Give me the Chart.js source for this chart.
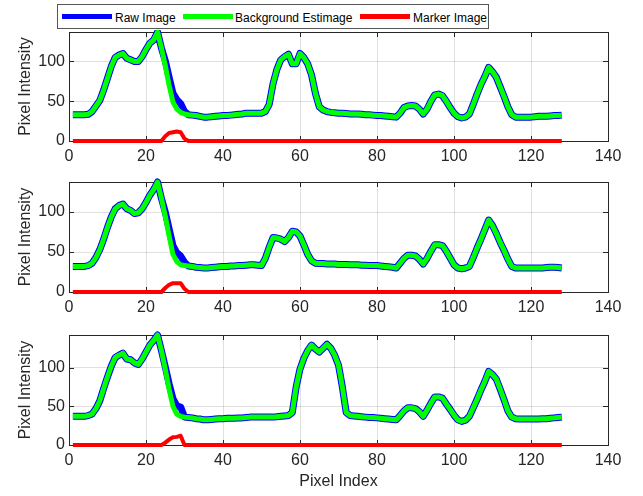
<!DOCTYPE html>
<html>
<head>
<meta charset="utf-8">
<script src="https://cdn.jsdelivr.net/npm/chart.js@4.4.1/dist/chart.umd.min.js"></script>
<style>
  body { margin: 0; background: #fff; width: 643px; height: 496px; position: relative; overflow: hidden;
         font-family: 'Liberation Sans', Arial, Helvetica, sans-serif; }
  canvas { position: absolute; left: 0; }
  #legend { position: absolute; left: 57px; top: 4px; width: 430px; height: 23px; border: 1px solid #555; background: #fff; }
  .sw { position: absolute; top: 9px; width: 50px; height: 5px; }
  .lb { position: absolute; top: 6px; font-size: 12px; line-height: 14px; color: #000; white-space: nowrap; }
</style>
</head>
<body>
<div id="legend">
  <div class="sw" style="left:4px;background:#0000ff"></div><span class="lb" style="left:57px">Raw Image</span>
  <div class="sw" style="left:125px;background:#00ff00"></div><span class="lb" style="left:177px">Background Estimage</span>
  <div class="sw" style="left:302px;background:#ff0000"></div><span class="lb" style="left:355px">Marker Image</span>
</div>
<canvas id="c1" width="643" height="133" style="top:30px"></canvas>
<canvas id="c2" width="643" height="144" style="top:170px"></canvas>
<canvas id="c3" width="643" height="175" style="top:320px"></canvas>
<script>
// x positions = pixel index 1..128
const pixelIndex = Array.from({ length: 128 }, (_, i) => i + 1);
const xTicks = [0, 20, 40, 60, 80, 100, 120, 140];
const yTicks = [0, 50, 100];

// ---- subplot 1 ----
const bg1 = [
  33, 33, 33, 33, 33.5, 37, 44, 51, 64, 79, 94, 105, 108, 110, 104, 102,
  100, 100, 106, 115, 123, 127, 137, 117, 95, 70, 49, 40, 36, 34, 33, 32.5,
  32, 31, 30, 30, 30.5, 31, 31.5, 32, 32, 32.5, 33, 33.5, 34, 35, 35, 35,
  35, 35, 37, 46, 72, 90, 102, 106, 109, 97, 97, 110, 105, 97, 83, 60,
  43, 39, 37, 36, 35.5, 35, 35, 34.5, 34, 34, 34, 33.5, 33, 33, 32.5, 32,
  32, 31.5, 31, 30.5, 30, 35, 42, 44, 44.5, 44, 40, 34, 40, 50, 58, 59,
  57, 50, 42, 35, 30.5, 29, 30, 34, 46, 59, 71, 81, 92.5, 87, 80, 68,
  56, 43, 33, 30, 30, 30, 30, 30, 30.5, 31, 31, 31, 31.5, 32, 32, 32.5
];
const raw1 = [
  33, 33, 33, 33, 33.5, 37, 44, 51, 64, 79, 94, 105, 108, 110, 104, 102,
  100, 100, 106, 115, 123, 127, 137, 117, 101, 80, 60, 52, 47, 37, 33, 32.5,
  32, 31, 30, 30, 30.5, 31, 31.5, 32, 32, 32.5, 33, 33.5, 34, 35, 35, 35,
  35, 35, 37, 46, 72, 90, 102, 106, 109, 97, 97, 110, 105, 97, 83, 60,
  43, 39, 37, 36, 35.5, 35, 35, 34.5, 34, 34, 34, 33.5, 33, 33, 32.5, 32,
  32, 31.5, 31, 30.5, 30, 35, 42, 44, 44.5, 44, 40, 34, 40, 50, 58, 59,
  57, 50, 42, 35, 30.5, 29, 30, 34, 46, 59, 71, 81, 92.5, 87, 80, 68,
  56, 43, 33, 30, 30, 30, 30, 30, 30.5, 31, 31, 31, 31.5, 32, 32, 32.5
];
const marker1 = [
  0, 0, 0, 0, 0, 0, 0, 0, 0, 0, 0, 0, 0, 0, 0, 0,
  0, 0, 0, 0, 0, 0, 0, 0, 6, 10, 11, 12, 11, 3, 0, 0,
  0, 0, 0, 0, 0, 0, 0, 0, 0, 0, 0, 0, 0, 0, 0, 0,
  0, 0, 0, 0, 0, 0, 0, 0, 0, 0, 0, 0, 0, 0, 0, 0,
  0, 0, 0, 0, 0, 0, 0, 0, 0, 0, 0, 0, 0, 0, 0, 0,
  0, 0, 0, 0, 0, 0, 0, 0, 0, 0, 0, 0, 0, 0, 0, 0,
  0, 0, 0, 0, 0, 0, 0, 0, 0, 0, 0, 0, 0, 0, 0, 0,
  0, 0, 0, 0, 0, 0, 0, 0, 0, 0, 0, 0, 0, 0, 0, 0
];

// ---- subplot 2 ----
const bg2 = [
  32, 32, 32, 32, 33, 36, 43, 53, 66, 81, 94, 104, 108, 110, 104, 102,
  98, 99, 104, 112, 121, 128, 137.5, 117, 95, 70, 47, 38, 34, 33, 32.5, 32,
  31, 30.5, 30, 30, 30.5, 31, 31.5, 32, 32, 32.5, 32.5, 33, 33, 33.5, 34, 34,
  33.5, 33, 42, 56, 68, 67.5, 66, 63, 68, 76, 75, 70, 59, 47, 39, 36,
  35.5, 35.5, 35, 35, 35, 34.5, 34.5, 34.5, 34, 34, 34, 33.5, 33.5, 33, 33, 33,
  32.5, 32, 31.5, 31, 30, 36, 42, 46, 46, 45, 41, 35, 42, 51, 59, 59,
  58, 51, 42.5, 34, 30, 29, 30, 32, 43, 55, 66, 78, 90, 83, 73, 62,
  52, 41, 32, 30, 30, 30, 30, 30, 30, 30, 30, 30.5, 31, 31, 30.5, 30
];
const raw2 = [
  32, 32, 32, 32, 33, 36, 43, 53, 66, 81, 94, 104, 108, 110, 104, 102,
  98, 99, 104, 112, 121, 128, 137.5, 117, 100, 79, 58, 49, 45, 37, 32.5, 32,
  31, 30.5, 30, 30, 30.5, 31, 31.5, 32, 32, 32.5, 32.5, 33, 33, 33.5, 34, 34,
  33.5, 33, 42, 56, 68, 67.5, 66, 63, 68, 76, 75, 70, 59, 47, 39, 36,
  35.5, 35.5, 35, 35, 35, 34.5, 34.5, 34.5, 34, 34, 34, 33.5, 33.5, 33, 33, 33,
  32.5, 32, 31.5, 31, 30, 36, 42, 46, 46, 45, 41, 35, 42, 51, 59, 59,
  58, 51, 42.5, 34, 30, 29, 30, 32, 43, 55, 66, 78, 90, 83, 73, 62,
  52, 41, 32, 30, 30, 30, 30, 30, 30, 30, 30, 30.5, 31, 31, 30.5, 30
];
const marker2 = [
  0, 0, 0, 0, 0, 0, 0, 0, 0, 0, 0, 0, 0, 0, 0, 0,
  0, 0, 0, 0, 0, 0, 0, 0, 5, 9, 11, 11, 11, 4, 0, 0,
  0, 0, 0, 0, 0, 0, 0, 0, 0, 0, 0, 0, 0, 0, 0, 0,
  0, 0, 0, 0, 0, 0, 0, 0, 0, 0, 0, 0, 0, 0, 0, 0,
  0, 0, 0, 0, 0, 0, 0, 0, 0, 0, 0, 0, 0, 0, 0, 0,
  0, 0, 0, 0, 0, 0, 0, 0, 0, 0, 0, 0, 0, 0, 0, 0,
  0, 0, 0, 0, 0, 0, 0, 0, 0, 0, 0, 0, 0, 0, 0, 0,
  0, 0, 0, 0, 0, 0, 0, 0, 0, 0, 0, 0, 0, 0, 0, 0
];

// ---- subplot 3 ----
const bg3 = [
  37, 37, 37, 37, 38, 40, 47, 57, 73, 88, 102, 113, 116, 118.5, 111, 110,
  106, 104, 111, 120, 129, 135, 142, 122, 98, 72, 50, 40, 37, 36, 35.5, 35,
  34, 33.5, 32.5, 32.5, 33, 33.5, 34, 34, 34.5, 34.5, 34.5, 35, 35, 35.5, 36, 36,
  36, 36, 36, 36, 36, 36.5, 37, 37.5, 38, 42, 75, 98, 112, 122, 129, 124,
  120, 125, 130, 125, 116, 103, 75, 42, 38, 37.5, 37, 36.5, 36, 35.5, 35.5, 35,
  34.5, 34, 33.5, 33, 32.5, 38, 44, 48, 48, 47, 43, 37, 45, 54, 62, 62,
  60.5, 53, 46, 38.5, 32.5, 30.5, 32, 37, 48, 59, 71, 82, 95, 91, 85, 72,
  58.5, 44, 36, 34, 33.5, 33.5, 33.5, 33.5, 33.5, 33.5, 34, 34, 34.5, 35, 35.5, 36
];
const raw3 = [
  37, 37, 37, 37, 38, 40, 47, 57, 73, 88, 102, 113, 116, 118.5, 111, 110,
  106, 104, 111, 120, 129, 135, 142, 122, 101, 79, 60, 50.5, 49, 36, 35.5, 35,
  34, 33.5, 32.5, 32.5, 33, 33.5, 34, 34, 34.5, 34.5, 34.5, 35, 35, 35.5, 36, 36,
  36, 36, 36, 36, 36, 36.5, 37, 37.5, 38, 42, 75, 98, 112, 122, 129, 124,
  120, 125, 130, 125, 116, 103, 75, 42, 38, 37.5, 37, 36.5, 36, 35.5, 35.5, 35,
  34.5, 34, 33.5, 33, 32.5, 38, 44, 48, 48, 47, 43, 37, 45, 54, 62, 62,
  60.5, 53, 46, 38.5, 32.5, 30.5, 32, 37, 48, 59, 71, 82, 95, 91, 85, 72,
  58.5, 44, 36, 34, 33.5, 33.5, 33.5, 33.5, 33.5, 33.5, 34, 34, 34.5, 35, 35.5, 36
];
const marker3 = [
  0, 0, 0, 0, 0, 0, 0, 0, 0, 0, 0, 0, 0, 0, 0, 0,
  0, 0, 0, 0, 0, 0, 0, 0, 3, 7, 10, 10.5, 12, 0, 0, 0,
  0, 0, 0, 0, 0, 0, 0, 0, 0, 0, 0, 0, 0, 0, 0, 0,
  0, 0, 0, 0, 0, 0, 0, 0, 0, 0, 0, 0, 0, 0, 0, 0,
  0, 0, 0, 0, 0, 0, 0, 0, 0, 0, 0, 0, 0, 0, 0, 0,
  0, 0, 0, 0, 0, 0, 0, 0, 0, 0, 0, 0, 0, 0, 0, 0,
  0, 0, 0, 0, 0, 0, 0, 0, 0, 0, 0, 0, 0, 0, 0, 0,
  0, 0, 0, 0, 0, 0, 0, 0, 0, 0, 0, 0, 0, 0, 0, 0
];

const FONT = "'Liberation Sans', Arial, Helvetica, sans-serif";
const TXT = '#262626';

// box round the axes + inward tick marks, like matlab
const framePlugin = {
  id: 'frame',
  beforeDatasetsDraw(chart) {
    const { ctx, chartArea: a, scales } = chart;
    ctx.save();
    ctx.strokeStyle = TXT;
    ctx.lineWidth = 1;
    ctx.beginPath();
    xTicks.forEach(v => {
      const px = Math.round(scales.x.getPixelForValue(v)) + 0.5;
      ctx.moveTo(px, a.bottom); ctx.lineTo(px, a.bottom - 5);
      ctx.moveTo(px, a.top); ctx.lineTo(px, a.top + 5);
    });
    yTicks.forEach(v => {
      const py = Math.round(scales.y.getPixelForValue(v)) + 0.5;
      ctx.moveTo(a.left, py); ctx.lineTo(a.left + 5, py);
      ctx.moveTo(a.right, py); ctx.lineTo(a.right - 5, py);
    });
    ctx.stroke();
    ctx.strokeRect(Math.round(a.left) + 0.5, Math.round(a.top) + 0.5,
                   Math.round(a.right - a.left), Math.round(a.bottom - a.top));
    ctx.restore();
  }
};

function pts(arr) {
  return pixelIndex.map((x, i) => ({ x, y: arr[i] }));
}

function makeChart(id, raw, bg, marker, yMax, padTop, xHeight, showXTitle) {
  const line = { pointRadius: 0, tension: 0, clip: false, borderJoinStyle: 'round', borderCapStyle: 'butt' };
  new Chart(document.getElementById(id), {
    type: 'line',
    data: {
      datasets: [
        { ...line, label: 'Marker Image', data: pts(marker), borderColor: '#ff0000', borderWidth: 4 },
        { ...line, label: 'Background Estimage', data: pts(bg), borderColor: '#00ff00', borderWidth: 5 },
        { ...line, label: 'Raw Image', data: pts(raw), borderColor: '#0000ff', borderWidth: 7 }
      ]
    },
    options: {
      responsive: false,
      animation: false,
      events: [],
      layout: { padding: { top: padTop, right: 35, left: 0, bottom: 0 } },
      plugins: { legend: { display: false }, tooltip: { enabled: false } },
      scales: {
        x: {
          type: 'linear', min: 0, max: 140,
          afterBuildTicks: s => { s.ticks = xTicks.map(v => ({ value: v })); },
          afterFit: s => { s.height = xHeight; s.paddingLeft = 0; s.paddingRight = 0; },
          grid: { color: 'rgba(0,0,0,0.12)', drawTicks: false },
          border: { display: false },
          ticks: { padding: 6, color: TXT, font: { family: FONT, size: 16 }, maxRotation: 0 },
          title: { display: showXTitle, text: 'Pixel Index', color: TXT,
                   font: { family: FONT, size: 16 }, padding: { top: 0, bottom: 4 } }
        },
        y: {
          min: 0, max: yMax,
          afterBuildTicks: s => { s.ticks = yTicks.map(v => ({ value: v })); },
          afterFit: s => { s.width = 69; s.paddingTop = 0; s.paddingBottom = 0; },
          grid: { color: 'rgba(0,0,0,0.12)', drawTicks: false },
          border: { display: false },
          ticks: { padding: 4, color: TXT, font: { family: FONT, size: 16 } },
          title: { display: true, text: 'Pixel Intensity', color: TXT,
                   font: { family: FONT, size: 16 }, padding: { top: 16, bottom: 0 } }
        }
      }
    },
    plugins: [framePlugin]
  });
}

makeChart('c1', raw1, bg1, marker1, 137, 2, 22, false);
makeChart('c2', raw2, bg2, marker2, 137.5, 12, 22, false);
makeChart('c3', raw3, bg3, marker3, 142, 15, 50, true);
</script>
</body>
</html>
